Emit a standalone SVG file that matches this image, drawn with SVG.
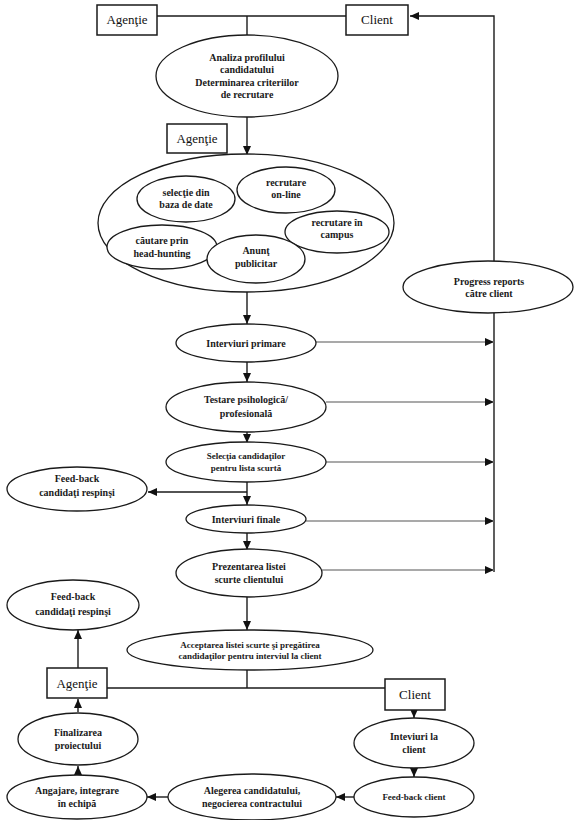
<svg xmlns="http://www.w3.org/2000/svg" width="578" height="820" viewBox="0 0 578 820">
<style>
.e{fill:#fff;stroke:#1a1a1a;stroke-width:1.3}
.b{fill:#fff;stroke:#1a1a1a;stroke-width:1.5}
.t{font-family:"Liberation Serif","Times New Roman",serif;font-size:10px;font-weight:bold;fill:#1a1a1a;text-anchor:middle}
.s{font-size:9px}
.bt{font-family:"Liberation Serif","Times New Roman",serif;font-size:13px;fill:#111;text-anchor:middle}
.c{fill:none;stroke:#1a1a1a;stroke-width:1.4}
.g{fill:none;stroke:#8c8c8c;stroke-width:1.6}
</style>
<defs>
<marker id="a" markerWidth="9" markerHeight="8" refX="9" refY="4" orient="auto" markerUnits="userSpaceOnUse">
<path d="M0,0 L9,4 L0,8 Z" fill="#111"/>
</marker>
</defs>
<g id="connectors">
<path class="c" d="M157,16 H346"/>
<path class="c" d="M247,16 V35"/>
<path class="c" d="M494,262 V16 H410" marker-end="url(#a)"/>
<path class="c" d="M494,313 V572"/>
<path class="c" d="M247,117 V155" marker-end="url(#a)"/>
<path class="c" d="M247,292 V324" marker-end="url(#a)"/>
<path class="c" d="M247,362 V382" marker-end="url(#a)"/>
<path class="c" d="M247,432 V443" marker-end="url(#a)"/>
<path class="c" d="M247,482 V505" marker-end="url(#a)"/>
<path class="c" d="M247,492 H148" marker-end="url(#a)"/>
<path class="c" d="M247,533 V550" marker-end="url(#a)"/>
<path class="c" d="M247,597 V630" marker-end="url(#a)"/>
<path class="g" d="M316,342 H494" marker-end="url(#a)"/>
<path class="g" d="M326,402 H494" marker-end="url(#a)"/>
<path class="g" d="M326,462 H494" marker-end="url(#a)"/>
<path class="g" d="M306,521 H494" marker-end="url(#a)"/>
<path class="g" d="M322,570 H494" marker-end="url(#a)"/>
<path class="c" d="M247,670 V688"/>
<path class="c" d="M107,688 H385"/>
<path class="c" d="M78,668 V630" marker-end="url(#a)"/>
<path class="c" d="M414,710 V718" marker-end="url(#a)"/>
<path class="c" d="M414,768 V777" marker-end="url(#a)"/>
<path class="c" d="M354,797 H336" marker-end="url(#a)"/>
<path class="c" d="M168,797 H147" marker-end="url(#a)"/>
<path class="c" d="M78,775 V766" marker-end="url(#a)"/>
<path class="c" d="M78,712 V699" marker-end="url(#a)"/>
</g>
<g id="agentie1"><rect class="b" x="97" y="5" width="60" height="30"/><text class="bt" x="127" y="24">Agenţie</text></g>
<g id="client1"><rect class="b" x="346" y="5" width="62" height="30"/><text class="bt" x="377" y="24">Client</text></g>
<g id="analiza"><ellipse class="e" cx="247" cy="76" rx="91" ry="41"/>
<text class="t" x="247" y="61">Analiza profilului</text><text class="t" x="247" y="73">candidatului</text><text class="t" x="247" y="86">Determinarea criteriilor</text><text class="t" x="247" y="98">de recrutare</text></g>
<g id="agentie2"><rect class="b" x="167" y="124" width="60" height="29"/><text class="bt" x="197" y="143">Agenţie</text></g>
<g id="recrutare"><ellipse class="e" cx="246" cy="223" rx="148" ry="69"/></g>
<g id="selectie"><ellipse class="e" cx="186" cy="199" rx="49" ry="23"/><text class="t" x="186" y="196">selecţie din</text><text class="t" x="186" y="208">baza de date</text></g>
<g id="online"><ellipse class="e" cx="286" cy="190" rx="49" ry="23"/><text class="t" x="286" y="186">recrutare</text><text class="t" x="286" y="198">on-line</text></g>
<g id="campus"><ellipse class="e" cx="337" cy="232" rx="52" ry="21"/><text class="t" x="337" y="226">recrutare în</text><text class="t" x="337" y="238">campus</text></g>
<g id="headhunting"><ellipse class="e" cx="162" cy="247" rx="55" ry="22"/><text class="t" x="162" y="244">căutare prin</text><text class="t" x="162" y="257">head-hunting</text></g>
<g id="anunt"><ellipse class="e" cx="256" cy="259" rx="49" ry="24"/><text class="t" x="256" y="254">Anunţ</text><text class="t" x="256" y="267">publicitar</text></g>
<g id="progress"><ellipse class="e" cx="488" cy="287" rx="85" ry="26"/><text class="t" x="489" y="285">Progress reports</text><text class="t" x="489" y="297">către client</text></g>
<g id="interviuri-primare"><ellipse class="e" cx="246" cy="343" rx="70" ry="19"/><text class="t" x="246" y="347">Interviuri primare</text></g>
<g id="testare"><ellipse class="e" cx="246" cy="407" rx="80" ry="25"/><text class="t" x="246" y="403">Testare psihologică/</text><text class="t" x="246" y="417">profesională</text></g>
<g id="selectia"><ellipse class="e" cx="246" cy="462" rx="80" ry="20"/><text class="t s" x="246" y="459">Selecţia candidaţilor</text><text class="t s" x="246" y="471">pentru lista scurtă</text></g>
<g id="feedback1"><ellipse class="e" cx="77" cy="489" rx="70" ry="22"/><text class="t" x="77" y="482">Feed-back</text><text class="t" x="77" y="496">candidaţi respinşi</text></g>
<g id="interviuri-finale"><ellipse class="e" cx="246" cy="519" rx="60" ry="14"/><text class="t" x="246" y="523">Interviuri finale</text></g>
<g id="prezentarea"><ellipse class="e" cx="249" cy="573" rx="73" ry="24"/><text class="t" x="249" y="570">Prezentarea listei</text><text class="t" x="249" y="583">scurte clientului</text></g>
<g id="feedback2"><ellipse class="e" cx="73" cy="605" rx="66" ry="25"/><text class="t" x="73" y="600">Feed-back</text><text class="t" x="73" y="615">candidaţi respinşi</text></g>
<g id="acceptarea"><ellipse class="e" cx="250" cy="650" rx="123" ry="20"/><text class="t s" x="250" y="648">Acceptarea listei scurte şi pregătirea</text><text class="t s" x="250" y="659">candidaţilor pentru interviul la client</text></g>
<g id="agentie3"><rect class="b" x="47" y="668" width="60" height="30"/><text class="bt" x="77" y="688">Agenţie</text></g>
<g id="client3"><rect class="b" x="385" y="679" width="60" height="31"/><text class="bt" x="415" y="699">Client</text></g>
<g id="interviuri-client"><ellipse class="e" cx="414" cy="743" rx="60" ry="25"/><text class="t" x="414" y="740">Inteviuri la</text><text class="t" x="414" y="753">client</text></g>
<g id="feedback-client"><ellipse class="e" cx="414" cy="797" rx="60" ry="20"/><text class="t s" x="414" y="800">Feed-back client</text></g>
<g id="alegerea"><ellipse class="e" cx="252" cy="797" rx="84" ry="23"/><text class="t" x="252" y="794">Alegerea candidatului,</text><text class="t" x="252" y="807">negocierea contractului</text></g>
<g id="angajare"><ellipse class="e" cx="77" cy="797" rx="70" ry="22"/><text class="t" x="77" y="794">Angajare, integrare</text><text class="t" x="77" y="807">în echipă</text></g>
<g id="finalizarea"><ellipse class="e" cx="78" cy="739" rx="60" ry="26"/><text class="t" x="78" y="736">Finalizarea</text><text class="t" x="78" y="749">proiectului</text></g>
</svg>
